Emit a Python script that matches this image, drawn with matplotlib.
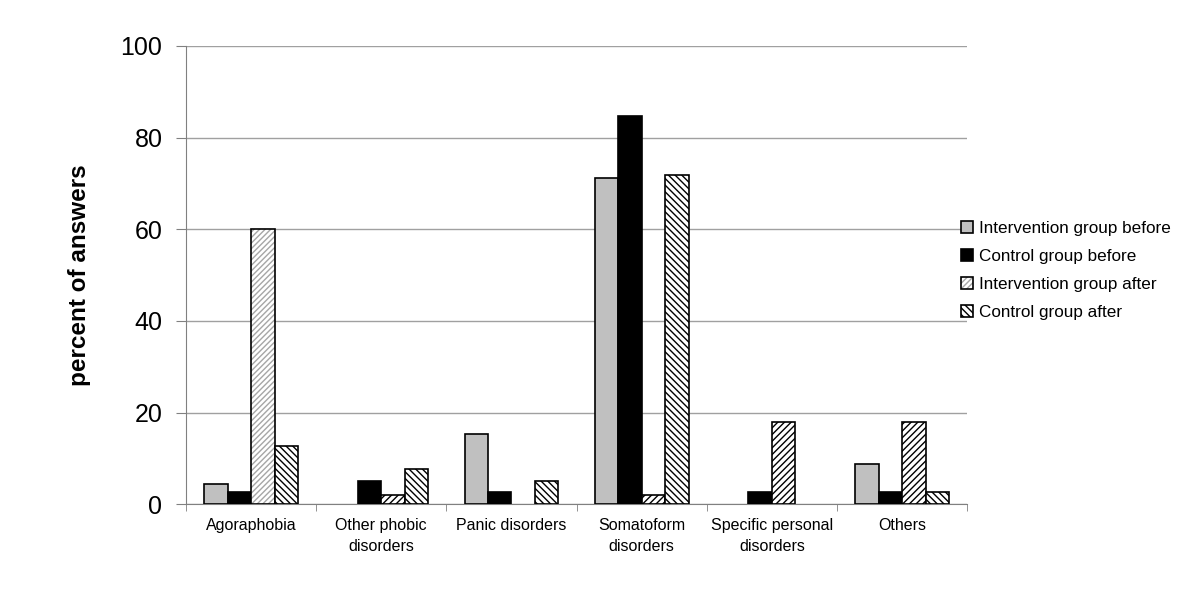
import matplotlib.pyplot as plt
import numpy as np

plt.rcParams['font.family'] = ['Liberation Sans', 'DejaVu Sans']
plt.rcParams['hatch.linewidth'] = 1.0

categories = ['Agoraphobia', 'Other phobic\ndisorders', 'Panic disorders',
              'Somatoform\ndisorders', 'Specific personal\ndisorders', 'Others']
series_names = ['Intervention group before', 'Control group before',
                'Intervention group after', 'Control group after']
intervention_before = [4.5, 0, 15.4, 71.2, 0, 8.7]
control_before = [2.6, 5.1, 2.6, 84.6, 2.6, 2.6]
intervention_after = [60.0, 2.1, 0, 2.1, 17.9, 17.9]
control_after = [12.8, 7.7, 5.1, 71.8, 0, 2.6]

fig = plt.figure(figsize=(12, 5.96), dpi=100)
ax = fig.add_axes([0.155, 0.154, 0.651, 0.769])

x = np.arange(len(categories))
w = 0.18
styles = [
    dict(color='#c0c0c0', hatch=None),
    dict(color='black', hatch=None),
    dict(color='white', hatch='/////'),
    dict(color='white', hatch='\\\\\\\\\\'),
]
values = [intervention_before, control_before, intervention_after, control_after]

handles = []
for i, (vals, st) in enumerate(zip(values, styles)):
    bars = ax.bar(x + (i - 1.5) * w, vals, w, color=st['color'], hatch=st['hatch'],
                  edgecolor='black', linewidth=1.2, zorder=3, label=series_names[i])
    for b, v in zip(bars, vals):
        if v == 0:
            b.set_visible(False)
    handles.append(bars)

# the agoraphobia "intervention after" bar is drawn with a lighter hatch
light = handles[2][0]
light.set_hatch('//////')
light._hatch_color = (0.65, 0.65, 0.65, 1)

ax.set_ylim(0, 100)
ax.set_xlim(-0.5, len(categories) - 0.5)
ax.set_yticks(range(0, 101, 20))
ax.yaxis.grid(True, color='#a0a0a0', linewidth=1, zorder=0)
ax.tick_params(axis='y', labelsize=18, length=7, color='#808080', pad=10)

ax.set_xticks(x)
ax.set_xticklabels(categories, fontsize=11.5, linespacing=1.45)
ax.set_xticks(np.arange(len(categories) + 1) - 0.5, minor=True)
ax.tick_params(axis='x', which='major', length=0, pad=10)
ax.tick_params(axis='x', which='minor', length=5, color='#808080')

for s in ['top', 'right']:
    ax.spines[s].set_visible(False)
for s in ['left', 'bottom']:
    ax.spines[s].set_color('#808080')

ax.set_ylabel('percent of answers', fontsize=17.5, fontweight='bold', labelpad=21)

ax.legend(loc='center left', bbox_to_anchor=(0.972, 0.51), frameon=False,
          fontsize=12.3, handlelength=0.7, handleheight=0.7, handletextpad=0.35,
          labelspacing=0.75)

fig.savefig('out.png', dpi=100)
